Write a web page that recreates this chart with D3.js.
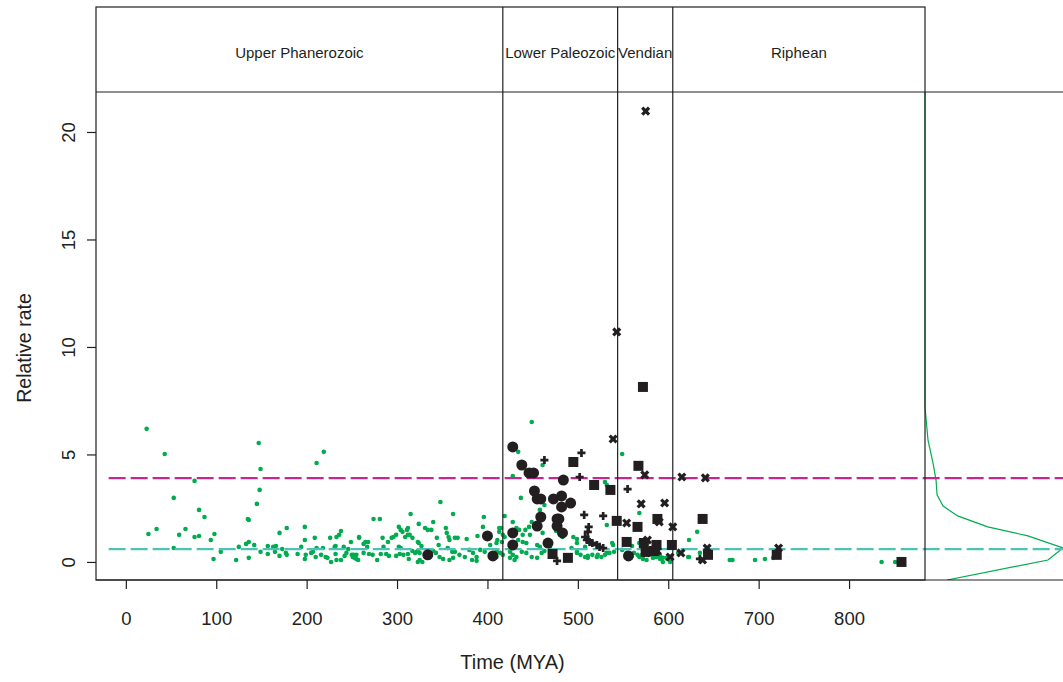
<!DOCTYPE html>
<html>
<head>
<meta charset="utf-8">
<script src="https://cdn.jsdelivr.net/npm/d3@7"></script>
<style>
body { margin: 0; background: #fff; }
text { font-family: "Liberation Sans", Arial, sans-serif; fill: #231f20; }
</style>
</head>
<body>
<svg id="chart" width="1063" height="682"></svg>
<script>
// axis ranges and ticks
const xDomain = [-33, 884];
const yDomain = [-0.84, 21.86];
const xTicks = [0, 100, 200, 300, 400, 500, 600, 700, 800];
const yTicks = [0, 5, 10, 15, 20];

// geological periods (boundaries in MYA)
const eraNames = ["Upper Phanerozoic", "Lower Paleozoic", "Vendian", "Riphean"];
const eraBounds = [-33, 417, 544, 605, 884];

// horizontal reference rates
const refRates = [3.9, 0.6];
const refColors = ["#c4288d", "#4fc1b6"];

// green points (MYA, relative rate)
const greenAge = [23, 43, 25, 34, 53, 53, 59, 66, 76, 81, 87, 76, 81, 94, 98, 97, 105, 122, 125, 135,
  136, 133, 136, 142, 136, 147, 149, 148, 145, 149, 157, 157, 163, 166, 165, 170, 173, 170, 178, 177,
  178, 190, 194, 198, 198, 199, 198, 205, 207, 209, 210, 211, 219, 211, 216, 218, 221, 223, 227, 226,
  231, 232, 232, 233, 238, 233, 236, 238, 241, 242, 244, 246, 249, 250, 251, 253, 255, 257, 258, 258,
  252, 255, 263, 265, 268, 267, 263, 269, 273, 274, 281, 278, 284, 285, 282, 288, 291, 290, 294, 296,
  299, 302, 304, 306, 311, 312, 309, 312, 314, 317, 315, 302, 304, 299, 303, 307, 312, 313, 317, 323,
  324, 323, 323,
  348, 362, 340, 331, 395, 396, 413, 334, 338, 344, 354, 355, 357, 358, 364, 367, 377, 389, 346, 324,
  327, 322, 325, 340, 343, 356, 361, 364, 369, 375, 380, 384, 392, 397, 410, 414, 325, 328, 347, 351,
  358, 362, 383, 388, 320, 388, 411, 403,
  449, 434, 461, 428, 530, 437, 458, 463, 419, 428, 449, 415, 413, 432, 435, 446, 442, 532, 476, 417,
  419, 439, 447, 461, 466, 483, 495, 499, 511, 410, 416, 434, 439, 443, 455, 458, 499, 538, 410, 417,
  425, 428, 432, 438, 443, 449, 455, 425, 430, 460, 463, 469, 499, 503, 508, 511, 516, 521, 526, 530,
  535, 540, 410,
  549, 532, 568, 632, 623, 539, 493, 499, 511, 522, 532, 508, 549, 554, 560, 562, 566, 568, 571, 577,
  583, 587, 591, 594, 599, 611, 622, 635,
  623, 668, 671, 696, 707, 716, 836, 851, 585, 591, 594, 598, 602, 568, 572, 576];
const greenRate = [6.19, 5.02, 1.30, 1.53, 2.98, 0.65, 1.26, 1.53, 3.77, 2.42, 2.09, 1.16, 1.21, 1.02, 1.30, 0.14, 0.47, 0.09, 0.70, 2.00,
  1.95, 0.84, 0.93, 0.79, 0.19, 5.53, 4.32, 3.35, 2.70, 0.47, 0.37, 0.74, 0.70, 0.74, 0.47, 0.28, 0.60, 1.35, 1.58, 0.42,
  0.33, 0.37, 0.70, 1.63, 1.02, 0.33, 0.14, 0.42, 0.47, 1.12, 0.23, 4.60, 5.12, 0.65, 0.33, 0.65, 0.23, 0.19, 0.00, 1.12,
  0.70, 0.74, 0.37, 0.09, 0.09, 1.16, 1.26, 1.44, 0.70, 0.28, 0.42, 0.60, 0.93, 0.33, 0.23, 0.19, 0.14, 0.09, 1.16, 1.12,
  0.33, 0.33, 0.84, 0.93, 0.93, 0.70, 0.42, 0.37, 0.33, 2.00, 2.00, 0.09, 1.12, 0.70, 0.37, 0.37, 0.28, 0.93, 1.12, 1.16,
  1.26, 1.63, 1.49, 1.40, 1.49, 1.58, 1.16, 1.26, 1.26, 1.12, 2.23, 0.70, 0.65, 0.28, 0.37, 0.33, 0.37, 0.14, 0.51, 0.51,
  1.77, 0.93, 0.00,
  2.79, 2.23, 1.86, 1.58, 1.63, 2.09, 1.58, 1.49, 1.49, 1.12, 1.58, 1.35, 1.16, 1.02, 1.12, 1.12, 1.07, 1.21, 0.79, 0.88,
  0.74, 0.47, 0.42, 0.51, 0.42, 0.65, 0.47, 0.47, 0.33, 0.23, 0.56, 0.42, 0.56, 0.47, 0.47, 0.42, 0.09, 0.00, 0.23, 0.14,
  0.09, 0.19, 0.09, 0.05, 0.42, 0.23, 1.02, 0.79,
  6.51, 5.12, 4.51, 4.00, 3.72, 2.98, 2.42, 2.65, 2.14, 1.86, 1.86, 1.58, 1.40, 1.58, 1.49, 1.63, 1.49, 1.72, 1.44, 1.26,
  1.16, 1.26, 1.26, 1.35, 0.93, 1.16, 1.16, 1.07, 1.16, 0.88, 0.93, 1.02, 0.93, 0.88, 0.79, 0.70, 0.88, 0.88, 0.51, 0.33,
  0.47, 0.33, 0.23, 0.47, 0.42, 0.23, 0.19, 0.19, 0.09, 0.42, 0.51, 0.70, 0.42, 0.33, 0.23, 0.19, 0.33, 0.23, 0.23, 0.33,
  0.42, 0.47, 0.23,
  5.02, 3.58, 2.28, 1.40, 1.02, 0.79, 0.65, 0.47, 0.28, 0.33, 0.42, 0.70, 0.56, 0.42, 0.74, 0.42, 0.33, 0.88, 0.33, 0.33,
  0.19, 0.23, 0.28, 0.19, 0.14, 0.42, 0.23, 0.42,
  0.23, 0.09, 0.09, 0.09, 0.14, 0.19, 0.00, 0.00, 0.23, 0.14, 0.00, 0.19, 0.00, 0.23, 0.14, 0.09];

// black circles
const circleAge = [428, 438, 446, 451, 484, 452, 455, 459, 473, 482, 492, 482, 459, 477, 479, 477, 455, 483, 428, 428, 467, 400, 334, 406, 556];
const circleRate = [5.35, 4.51, 4.14, 4.14, 3.81, 3.30, 2.93, 2.93, 2.93, 3.07, 2.74, 2.56, 2.09, 2.00, 2.00, 1.67, 1.67, 1.35, 1.35, 0.79, 0.88, 1.21, 0.33, 0.28, 0.28];

// black squares
const squareAge = [495, 567, 518, 536, 543, 566, 588, 638, 554, 573, 587, 604, 575, 584, 472, 489, 644, 572, 720, 858];
const squareRate = [4.65, 4.47, 3.58, 3.35, 1.91, 1.63, 2.00, 2.00, 0.93, 0.88, 0.79, 0.79, 0.47, 0.51, 0.37, 0.19, 0.33, 8.14, 0.33, 0.00];

// black plus signs
const plusAge = [463, 504, 502, 507, 528, 512, 555, 511, 508, 510, 513, 516, 521, 524, 528, 477, 635];
const plusRate = [4.74, 5.07, 3.95, 2.19, 2.14, 1.63, 3.39, 1.40, 1.16, 1.02, 0.93, 0.88, 0.79, 0.70, 0.65, 0.05, 0.14];

// black crosses
const crossAge = [575, 543, 539, 574, 615, 641, 570, 596, 554, 590, 605, 577, 614, 643, 602, 576, 588, 722, 638];
const crossRate = [20.97, 10.70, 5.72, 4.05, 3.95, 3.91, 2.70, 2.74, 1.81, 1.86, 1.63, 1.02, 0.42, 0.65, 0.23, 0.42, 0.51, 0.65, 0.09];

// density of rates (right margin)
const densRate = [21.86, 7.2, 5.67, 4.60, 3.81, 3.12, 2.60, 2.14, 1.63, 1.21, 0.65, 0.09, -0.84];
const densValue = [0, 0, 0.012, 0.032, 0.044, 0.048, 0.072, 0.13, 0.25, 0.41, 0.55, 0.49, 0.088];

const W = 1063, H = 682;
const plot = {left: 96, right: 925, top: 92, bottom: 580, head: 7};
const ink = "#231f20";
const green = "#00ac4f";

const svg = d3.select("#chart");
const x = d3.scaleLinear().domain(xDomain).range([plot.left, plot.right]);
const y = d3.scaleLinear().domain(yDomain).range([plot.bottom, plot.top]);
const dx = d3.scaleLinear().domain([0, 0.55]).range([plot.right, W]);

const defs = svg.append("defs");
defs.append("clipPath").attr("id", "clipMain").append("rect")
  .attr("x", plot.left).attr("y", plot.top)
  .attr("width", plot.right - plot.left).attr("height", plot.bottom - plot.top);
defs.append("clipPath").attr("id", "clipAll").append("rect")
  .attr("x", plot.left).attr("y", plot.top)
  .attr("width", W - plot.left).attr("height", plot.bottom - plot.top);

// green points
const gMain = svg.append("g").attr("clip-path", "url(#clipMain)");
gMain.selectAll("circle.green")
  .data(greenAge.map((a, i) => [a, greenRate[i]]))
  .join("circle")
  .attr("class", "green")
  .attr("cx", d => x(d[0]))
  .attr("cy", d => y(d[1]))
  .attr("r", 2.3)
  .attr("fill", green);

// density curve
svg.append("path")
  .datum(densRate.map((r, i) => [densValue[i], r]))
  .attr("clip-path", "url(#clipAll)")
  .attr("fill", "none")
  .attr("stroke", green)
  .attr("stroke-width", 1.2)
  .attr("d", d3.line().x(d => dx(d[0])).y(d => y(d[1])));

// dashed reference lines
refRates.forEach((r, i) => {
  svg.append("line")
    .attr("x1", x(-19)).attr("x2", W)
    .attr("y1", y(r)).attr("y2", y(r))
    .attr("stroke", refColors[i])
    .attr("stroke-width", 2.2)
    .attr("stroke-dasharray", "17,5");
});

// black markers
const gBlack = svg.append("g").attr("clip-path", "url(#clipMain)").attr("fill", ink);
gBlack.selectAll("circle.big")
  .data(circleAge.map((a, i) => [a, circleRate[i]]))
  .join("circle")
  .attr("class", "big")
  .attr("cx", d => x(d[0]))
  .attr("cy", d => y(d[1]))
  .attr("r", 5.5);

gBlack.selectAll("path.sq")
  .data(squareAge.map((a, i) => [a, squareRate[i]]))
  .join("path")
  .attr("class", "sq")
  .attr("d", d3.symbol(d3.symbolSquare, 100))
  .attr("transform", d => `translate(${x(d[0])},${y(d[1])})`);

gBlack.selectAll("path.plus")
  .data(plusAge.map((a, i) => [a, plusRate[i]]))
  .join("path")
  .attr("class", "plus")
  .attr("d", d3.symbol(d3.symbolCross, 36))
  .attr("transform", d => `translate(${x(d[0])},${y(d[1])})`);

gBlack.selectAll("path.cross")
  .data(crossAge.map((a, i) => [a, crossRate[i]]))
  .join("path")
  .attr("class", "cross")
  .attr("d", d3.symbol(d3.symbolCross, 52))
  .attr("transform", d => `translate(${x(d[0])},${y(d[1])}) rotate(45)`);

// frames: header box, plot box, density panel
const frame = svg.append("g").attr("fill", "none").attr("stroke", ink).attr("stroke-width", 1.2);
frame.append("rect")
  .attr("x", plot.left).attr("y", plot.head)
  .attr("width", plot.right - plot.left).attr("height", plot.bottom - plot.head);
frame.append("line")
  .attr("x1", plot.left).attr("x2", W)
  .attr("y1", plot.top).attr("y2", plot.top);
frame.append("line")
  .attr("x1", plot.left).attr("x2", W)
  .attr("y1", plot.bottom).attr("y2", plot.bottom);

// era dividers and names
eraBounds.slice(1, -1).forEach(b => {
  frame.append("line")
    .attr("x1", x(b)).attr("x2", x(b))
    .attr("y1", plot.head).attr("y2", plot.bottom);
});
eraNames.forEach((name, i) => {
  svg.append("text")
    .attr("x", (x(eraBounds[i]) + x(eraBounds[i + 1])) / 2)
    .attr("y", 58)
    .attr("text-anchor", "middle")
    .attr("font-size", "15px")
    .text(name);
});

// axes
const xAxis = svg.append("g")
  .attr("transform", `translate(0,${plot.bottom})`)
  .call(d3.axisBottom(x).tickValues(xTicks).tickSize(9).tickPadding(23));
xAxis.select(".domain").remove();
xAxis.selectAll("line").attr("stroke", ink).attr("stroke-width", 1.2);
xAxis.selectAll("text").attr("font-size", "18.5px").attr("font-family", null).attr("fill", ink);

const yAxis = svg.append("g")
  .attr("transform", `translate(${plot.left},0)`)
  .call(d3.axisLeft(y).tickValues(yTicks).tickSize(9));
yAxis.select(".domain").remove();
yAxis.selectAll("line").attr("stroke", ink).attr("stroke-width", 1.2);
yAxis.selectAll("text")
  .attr("font-size", "18.5px").attr("font-family", null).attr("fill", ink)
  .attr("transform", "rotate(-90)")
  .attr("x", 0).attr("y", -21).attr("dy", 0)
  .attr("text-anchor", "middle");

svg.append("text")
  .attr("x", (plot.left + plot.right) / 2 + 2)
  .attr("y", 669)
  .attr("text-anchor", "middle")
  .attr("font-size", "20px")
  .text("Time (MYA)");

svg.append("text")
  .attr("transform", `translate(31,${(plot.top + plot.bottom) / 2 + 12}) rotate(-90)`)
  .attr("text-anchor", "middle")
  .attr("font-size", "19.5px")
  .text("Relative rate");
</script>
</body>
</html>
